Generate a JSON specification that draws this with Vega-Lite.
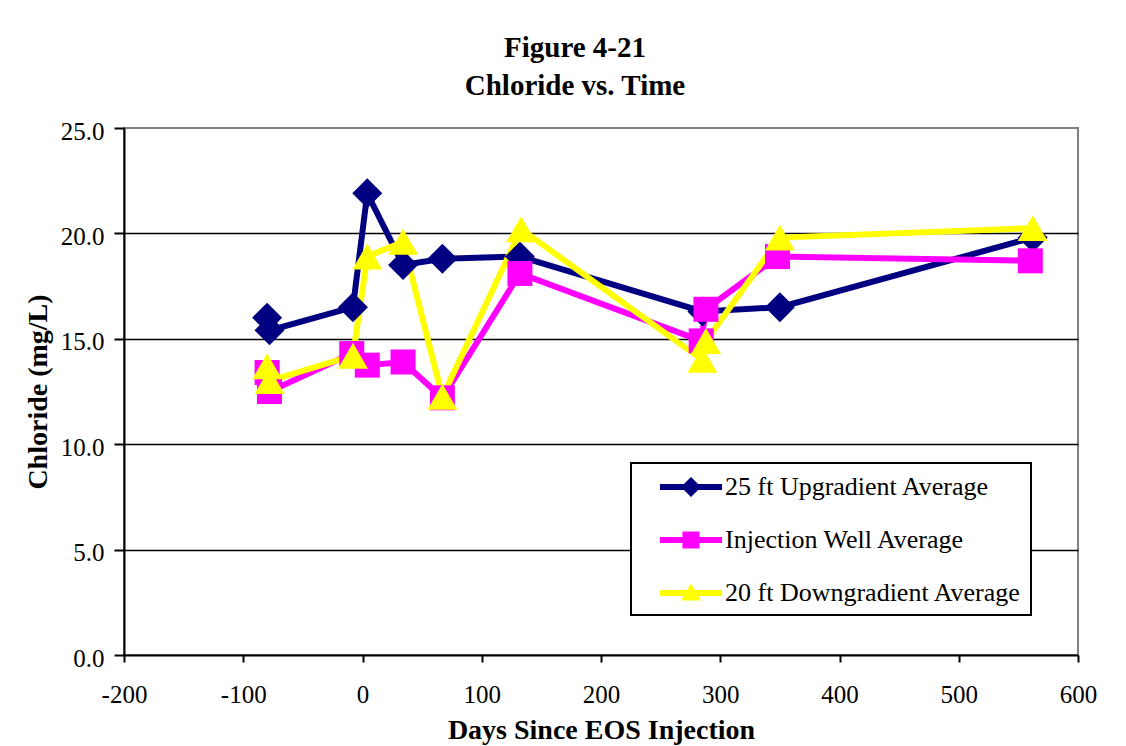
{
  "$schema": "https://vega.github.io/schema/vega-lite/v6.json",
  "width": 954,
  "height": 527,
  "autosize": "none",
  "padding": {"left": 124, "top": 128, "right": 48, "bottom": 91},
  "background": "white",
  "config": {
    "font": "Liberation Serif",
    "view": {"stroke": "#808080", "strokeWidth": 2},
    "legend": {"strokeColor": "black", "strokeWidth": 2, "fillColor": "white"}
  },
  "title": {
    "text": ["Figure 4-21", "Chloride vs. Time"],
    "font": "Liberation Serif",
    "fontSize": 29,
    "fontWeight": "bold",
    "lineHeight": 38,
    "anchor": "middle",
    "frame": "group",
    "dx": -26,
    "offset": 18,
    "color": "black"
  },
  "data": {
    "values": [
      {"series": "25 ft Upgradient Average", "ord": 1, "days": -80, "chloride": 16.0},
      {"series": "25 ft Upgradient Average", "ord": 2, "days": -78, "chloride": 15.4},
      {"series": "25 ft Upgradient Average", "ord": 3, "days": -8, "chloride": 16.5},
      {"series": "25 ft Upgradient Average", "ord": 4, "days": 4, "chloride": 21.9},
      {"series": "25 ft Upgradient Average", "ord": 5, "days": 34, "chloride": 18.5},
      {"series": "25 ft Upgradient Average", "ord": 6, "days": 67, "chloride": 18.8},
      {"series": "25 ft Upgradient Average", "ord": 7, "days": 132, "chloride": 18.9},
      {"series": "25 ft Upgradient Average", "ord": 8, "days": 285, "chloride": 16.3},
      {"series": "25 ft Upgradient Average", "ord": 9, "days": 350, "chloride": 16.5},
      {"series": "25 ft Upgradient Average", "ord": 10, "days": 562, "chloride": 19.8},
      {"series": "Injection Well Average", "ord": 1, "days": -80, "chloride": 13.4},
      {"series": "Injection Well Average", "ord": 2, "days": -78, "chloride": 12.5},
      {"series": "Injection Well Average", "ord": 3, "days": -9, "chloride": 14.3},
      {"series": "Injection Well Average", "ord": 4, "days": 4, "chloride": 13.75},
      {"series": "Injection Well Average", "ord": 5, "days": 34, "chloride": 13.9},
      {"series": "Injection Well Average", "ord": 6, "days": 67, "chloride": 12.2},
      {"series": "Injection Well Average", "ord": 7, "days": 132, "chloride": 18.1},
      {"series": "Injection Well Average", "ord": 8, "days": 284, "chloride": 14.9},
      {"series": "Injection Well Average", "ord": 9, "days": 288, "chloride": 16.4},
      {"series": "Injection Well Average", "ord": 10, "days": 348, "chloride": 18.9},
      {"series": "Injection Well Average", "ord": 11, "days": 560, "chloride": 18.7},
      {"series": "20 ft Downgradient Average", "ord": 1, "days": -80, "chloride": 13.7},
      {"series": "20 ft Downgradient Average", "ord": 2, "days": -78, "chloride": 13.0},
      {"series": "20 ft Downgradient Average", "ord": 3, "days": -8, "chloride": 14.2},
      {"series": "20 ft Downgradient Average", "ord": 4, "days": 4, "chloride": 18.9},
      {"series": "20 ft Downgradient Average", "ord": 5, "days": 34, "chloride": 19.6},
      {"series": "20 ft Downgradient Average", "ord": 6, "days": 67, "chloride": 12.25},
      {"series": "20 ft Downgradient Average", "ord": 7, "days": 133, "chloride": 20.2},
      {"series": "20 ft Downgradient Average", "ord": 8, "days": 285, "chloride": 14.0},
      {"series": "20 ft Downgradient Average", "ord": 9, "days": 288, "chloride": 14.9},
      {"series": "20 ft Downgradient Average", "ord": 10, "days": 350, "chloride": 19.8},
      {"series": "20 ft Downgradient Average", "ord": 11, "days": 562, "chloride": 20.25}
    ]
  },
  "encoding": {
    "x": {
      "field": "days",
      "type": "quantitative",
      "scale": {"domain": [-200, 600], "nice": false, "zero": false},
      "axis": {
        "title": "Days Since EOS Injection",
        "values": [-200, -100, 0, 100, 200, 300, 400, 500, 600],
        "labelExpr": "'' + datum.value",
        "grid": false,
        "domainColor": "black",
        "domainWidth": 2,
        "tickColor": "black",
        "tickWidth": 2,
        "tickSize": 7,
        "labelFont": "Liberation Serif",
        "labelFontSize": 25,
        "labelColor": "black",
        "labelPadding": 20,
        "labelFlush": false,
        "titleFont": "Liberation Serif",
        "titleFontSize": 28,
        "titleFontWeight": "bold",
        "titleColor": "black",
        "titlePadding": 9
      }
    },
    "y": {
      "field": "chloride",
      "type": "quantitative",
      "scale": {"domain": [0, 25], "nice": false},
      "axis": {
        "title": "Chloride (mg/L)",
        "values": [0, 5, 10, 15, 20, 25],
        "format": ".1f",
        "grid": true,
        "gridColor": {"condition": {"test": "datum.value === 25 || datum.value === 0", "value": "transparent"}, "value": "black"},
        "gridWidth": 1.5,
        "domainColor": "black",
        "domainWidth": 2,
        "tickColor": "black",
        "tickWidth": 2,
        "tickSize": 10,
        "labelFont": "Liberation Serif",
        "labelFontSize": 25,
        "labelColor": "black",
        "labelPadding": 10,
        "labelOffset": 3,
        "titleFont": "Liberation Serif",
        "titleFontSize": 28,
        "titleFontWeight": "bold",
        "titleColor": "black",
        "titlePadding": 8
      }
    },
    "color": {
      "field": "series",
      "type": "nominal",
      "scale": {
        "domain": ["25 ft Upgradient Average", "Injection Well Average", "20 ft Downgradient Average"],
        "range": ["#000080", "#FF00FF", "#FFFF00"]
      },
      "legend": {
        "title": null,
        "orient": "none",
        "legendX": 507,
        "legendY": 335,
        "direction": "vertical",
        "padding": 9,
        "symbolSize": 900,
        "symbolStrokeWidth": 0,
        "symbolOpacity": 1,
        "labelFont": "Liberation Serif",
        "labelFontSize": 26,
        "labelColor": "black",
        "labelOffset": 55,
        "labelLimit": 400,
        "rowPadding": 25
      }
    }
  },
  "layer": [
    {
      "mark": {"type": "line", "strokeWidth": 6},
      "encoding": {
        "order": {"field": "ord", "type": "quantitative"}
      }
    },
    {
      "transform": [{"filter": "datum.ord < 0"}],
      "mark": {"type": "point", "filled": true, "opacity": 1},
      "encoding": {
        "shape": {
          "field": "series",
          "type": "nominal",
          "scale": {
            "domain": ["25 ft Upgradient Average", "Injection Well Average", "20 ft Downgradient Average"],
            "range": [
              "M0.33,-0.2H4.47V0.2H0.33Z M2.4,-0.67L3.07,0L2.4,0.67L1.73,0Z",
              "M0.33,-0.2H4.47V0.2H0.33Z M1.83,-0.57H2.97V0.57H1.83Z",
              "M0.33,-0.2H4.47V0.2H0.33Z M2.4,-0.65L3.07,0.5H1.73Z"
            ]
          }
        }
      }
    },
    {
      "transform": [{"filter": "datum.series === '25 ft Upgradient Average'"}],
      "mark": {"type": "point", "filled": true, "opacity": 1, "shape": "diamond", "size": 900}
    },
    {
      "transform": [{"filter": "datum.series === 'Injection Well Average'"}],
      "mark": {"type": "point", "filled": true, "opacity": 1, "shape": "square", "size": 625}
    },
    {
      "transform": [{"filter": "datum.series === '20 ft Downgradient Average'"}],
      "mark": {"type": "point", "filled": true, "opacity": 1, "shape": "triangle-up", "size": 900}
    }
  ]
}
